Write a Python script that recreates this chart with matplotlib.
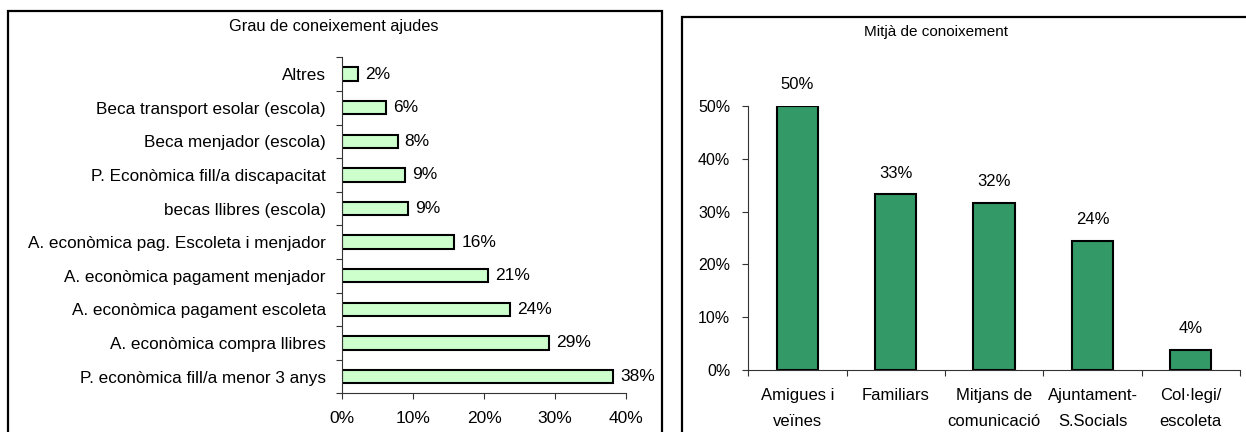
import numpy as np
import matplotlib
matplotlib.use("Agg")
import matplotlib.pyplot as plt
from matplotlib.patches import Rectangle
from matplotlib.ticker import PercentFormatter, FixedLocator

#%% data
ajudes = ["P. econòmica fill/a menor 3 anys",
          "A. econòmica compra llibres",
          "A. econòmica pagament escoleta",
          "A. econòmica pagament menjador",
          "A. econòmica pag. Escoleta i menjador",
          "becas llibres (escola)",
          "P. Econòmica fill/a discapacitat",
          "Beca menjador (escola)",
          "Beca transport esolar (escola)",
          "Altres"]
ajudes_pct = [38.2, 29.1, 23.6, 20.5, 15.8, 9.3, 8.8, 7.8, 6.1, 2.2]
ajudes_lbl = ["38%", "29%", "24%", "21%", "16%", "9%", "9%", "8%", "6%", "2%"]

mitja = ["Amigues i\nveïnes", "Familiars", "Mitjans de\ncomunicació",
         "Ajuntament-\nS.Socials", "Col·legi/\nescoleta"]
mitja_pct = [50.0, 33.3, 31.7, 24.5, 3.85]
mitja_lbl = ["50%", "33%", "32%", "24%", "4%"]

#%% figure
plt.rcParams['font.family'] = ['Liberation Sans', 'DejaVu Sans']
W, H = 1246, 432
fig = plt.figure(figsize=(W / 100, H / 100), dpi=100)

def fx(px):
    return px / W

def fy(py):
    return 1 - py / H

# panel borders (cut off at the bottom / right like the original)
fig.add_artist(Rectangle((fx(8), fy(460)), fx(662 - 8), (460 - 11) / H,
                         transform=fig.transFigure, fill=False,
                         lw=1.6, ec='black'))
fig.add_artist(Rectangle((fx(681.5), fy(460)), fx(1290 - 681.5), (460 - 17) / H,
                         transform=fig.transFigure, fill=False,
                         lw=1.6, ec='black'))

fig.text(fx(334), fy(27), "Grau de coneixement ajudes", ha='center',
         va='center', fontsize=11.8)
fig.text(fx(936), fy(32), "Mitjà de conoixement", ha='center',
         va='center', fontsize=11)

#%% left chart: horizontal bars
ax1 = fig.add_axes([fx(342.3), fy(393.3), fx(626 - 342.3), (393.3 - 57.3) / H])
y = np.arange(len(ajudes))
ax1.barh(y, ajudes_pct, height=0.4, color='#ccffcc', edgecolor='black', lw=1.5)
for yi, v, t in zip(y, ajudes_pct, ajudes_lbl):
    ax1.text(v + 1.0, yi, t, va='center', ha='left', fontsize=12.5)
ax1.set_xlim(0, 40)
ax1.set_ylim(-0.5, len(ajudes) - 0.5)
ax1.set_xticks([0, 10, 20, 30, 40])
ax1.xaxis.set_major_formatter(PercentFormatter(decimals=0))
ax1.set_yticks(y)
ax1.set_yticklabels(ajudes, fontsize=12.3)
ax1.yaxis.set_minor_locator(FixedLocator(np.arange(-0.5, len(ajudes), 1)))
ax1.tick_params(axis='y', which='major', length=0, pad=12)
ax1.tick_params(axis='y', which='minor', length=4, width=0.8, color='#333333')
ax1.tick_params(axis='x', length=4, width=0.8, color='#333333',
                labelsize=12.5, pad=9)
for s in ['top', 'right']:
    ax1.spines[s].set_visible(False)
for s in ['left', 'bottom']:
    ax1.spines[s].set_color('#333333')
    ax1.spines[s].set_linewidth(0.8)

#%% right chart: vertical bars
ax2 = fig.add_axes([fx(748.3), fy(370), fx(1240 - 748.3), (370 - 106) / H])
x = np.arange(len(mitja))
ax2.bar(x, mitja_pct, width=0.42, color='#339966', edgecolor='black', lw=1.5)
for xi, v, t in zip(x, mitja_pct, mitja_lbl):
    ax2.text(xi, v + 4.0, t, ha='center', va='center', fontsize=12)
ax2.set_ylim(0, 50)
ax2.set_xlim(-0.5, len(mitja) - 0.5)
ax2.set_yticks([0, 10, 20, 30, 40, 50])
ax2.yaxis.set_major_formatter(PercentFormatter(decimals=0))
ax2.set_xticks(x)
ax2.set_xticklabels(mitja, fontsize=12, linespacing=1.95)
ax2.xaxis.set_minor_locator(FixedLocator(np.arange(-0.5, len(mitja), 1)))
ax2.tick_params(axis='x', which='major', length=0, pad=13)
ax2.tick_params(axis='x', which='minor', length=4, width=0.8, color='#333333')
ax2.tick_params(axis='y', length=4, width=0.8, color='#333333',
                labelsize=11.5, pad=9)
for s in ['top', 'right']:
    ax2.spines[s].set_visible(False)
for s in ['left', 'bottom']:
    ax2.spines[s].set_color('#333333')
    ax2.spines[s].set_linewidth(0.8)

fig.savefig("out.png", dpi=100)
